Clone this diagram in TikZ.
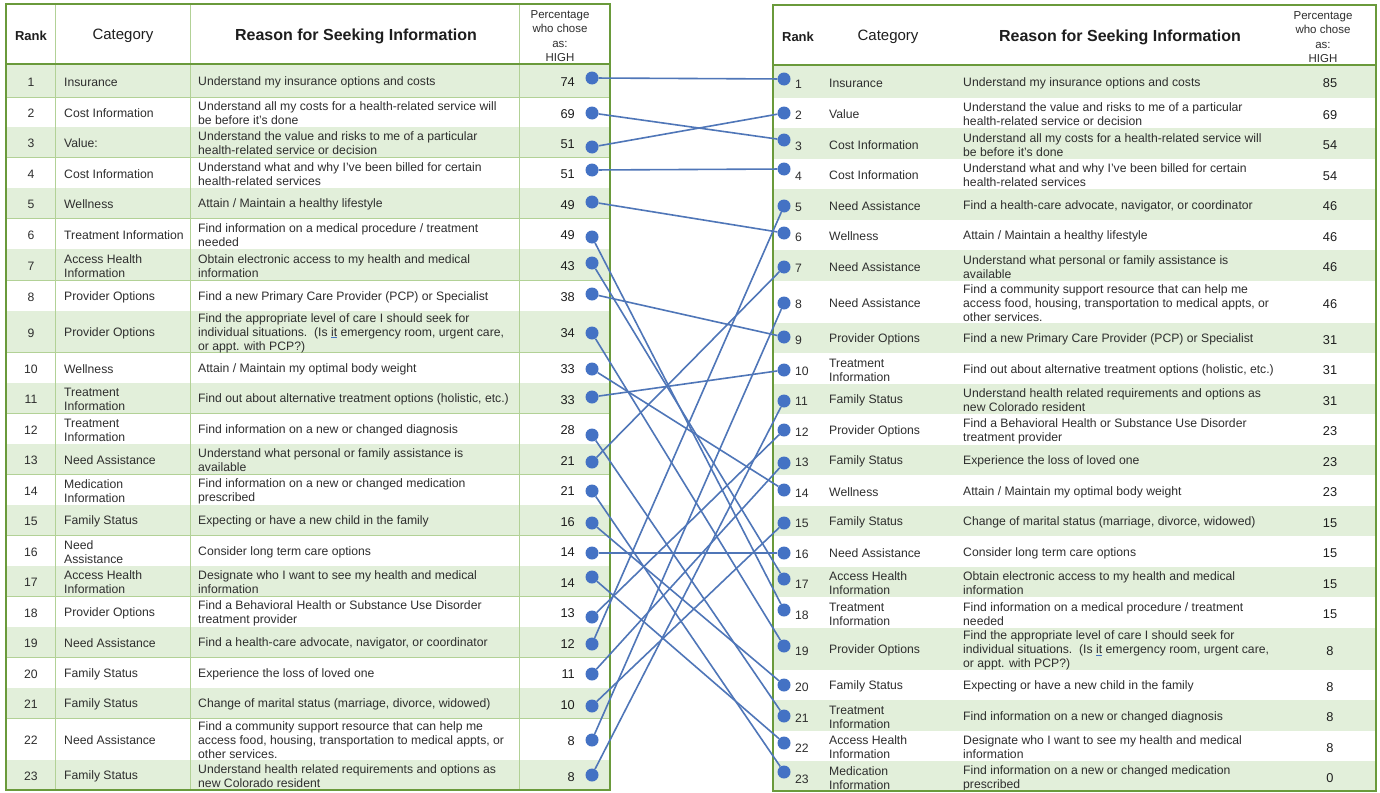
\documentclass[tikz,border=0pt]{standalone}
\usepackage{fontspec}
\setmainfont{Liberation Sans}
\definecolor{borderc}{HTML}{6A9A3B}
\definecolor{innerc}{HTML}{B2D196}
\definecolor{shadec}{HTML}{E2EFDA}
\definecolor{txtc}{HTML}{2E2E2E}
\definecolor{hdrc}{HTML}{1E1E1E}
\definecolor{dotc}{HTML}{4472C4}
\definecolor{linkc}{HTML}{4F76B8}
\tikzset{
  txt/.style={font=\fontsize{12.2}{14}\selectfont, text=txtc, inner sep=0pt, align=left, yshift=-1.5pt},
  num/.style={font=\fontsize{12.8}{14}\selectfont, text=hdrc, inner sep=0pt, yshift=-2pt},
  dot/.style={circle, fill=dotc, minimum size=13pt, inner sep=0pt},
  link/.style={draw=linkc, line width=1.6pt},
  rowshade/.style={fill=shadec},
  innerline/.style={draw=innerc, line width=0.8pt},
  outerline/.style={draw=borderc, line width=2pt},
  hdrline/.style={draw=borderc, line width=1.5pt},
  hdrsmall/.style={font=\bfseries\fontsize{13}{15}\selectfont, text=hdrc, inner sep=0pt},
  hdrcat/.style={font=\fontsize{15}{17}\selectfont, text=hdrc, inner sep=0pt},
  hdrbig/.style={font=\bfseries\fontsize{16}{18}\selectfont, text=hdrc, inner sep=0pt},
  hdrpct/.style={font=\fontsize{11.5}{14.5}\selectfont, text=txtc, inner sep=0pt, align=center}
}
\newcommand\ulit{\textcolor{dotc}{\underline{\textcolor{txtc}{it}}}}
% left row: rank, top, bottom, category, reason, pct, dot y
\newcommand\Lrow[7]{%
  \ifodd#1\relax \fill[rowshade] (7,#2) rectangle (610,#3);\fi
  \draw[innerline] (7,#3) -- (610,#3);
  \node[txt] (Lrank#1) at (31,{(#2+#3)/2}) {#1};
  \node[txt, anchor=west] (Lcat#1) at (64,{(#2+#3)/2}) {#4};
  \node[txt, anchor=west] (Lreas#1) at (198,{(#2+#3)/2}) {#5};
  \node[num, anchor=east] (Lpct#1) at (575,{(#2+#3)/2}) {#6};
  \node[dot] (L#1) at (592,#7) {};
}
\newcommand\Rrow[7]{%
  \ifodd#1\relax \fill[rowshade] (774,#2) rectangle (1375,#3);\fi
  \node[txt, anchor=west] (Rrank#1) at (795,{(#2+#3)/2+1}) {#1};
  \node[txt, anchor=west] (Rcat#1) at (829,{(#2+#3)/2}) {#4};
  \node[txt, anchor=west] (Rreas#1) at (963,{(#2+#3)/2}) {#5};
  \node[num] (Rpct#1) at (1330,{(#2+#3)/2}) {#6};
  \node[dot] (R#1) at (784,#7) {};
}
\begin{document}
\begin{tikzpicture}[x=1pt,y=-1pt]
\useasboundingbox (0,0) rectangle (1380,792);
\fill[white] (0,0) rectangle (1380,792);
% ---------------- left table
\Lrow{1}{64}{97}{Insurance}{Understand my insurance options and costs}{74}{78}
\Lrow{2}{97}{127}{Cost Information}{Understand all my costs for a health-related service will\\be before it's done}{69}{113}
\Lrow{3}{127}{157}{Value:}{Understand the value and risks to me of a particular\\health-related service or decision}{51}{147}
\Lrow{4}{157}{188}{Cost Information}{Understand what and why I've been billed for certain\\health-related services}{51}{170}
\Lrow{5}{188}{218}{Wellness}{Attain / Maintain a healthy lifestyle}{49}{202}
\Lrow{6}{218}{249}{Treatment Information}{Find information on a medical procedure / treatment\\needed}{49}{237}
\Lrow{7}{249}{280}{Access Health\\Information}{Obtain electronic access to my health and medical\\information}{43}{263}
\Lrow{8}{280}{311}{Provider Options}{Find a new Primary Care Provider (PCP) or Specialist}{38}{294}
\Lrow{9}{311}{352}{Provider Options}{Find the appropriate level of care I should seek for\\individual situations.\ \ (Is \ulit{} emergency room, urgent care,\\or appt. with PCP?)}{34}{333}
\Lrow{10}{352}{383}{Wellness}{Attain / Maintain my optimal body weight}{33}{369}
\Lrow{11}{383}{413}{Treatment\\Information}{Find out about alternative treatment options (holistic, etc.)}{33}{397}
\Lrow{12}{413}{444}{Treatment\\Information}{Find information on a new or changed diagnosis}{28}{435}
\Lrow{13}{444}{474}{Need Assistance}{Understand what personal or family assistance is\\available}{21}{462}
\Lrow{14}{474}{505}{Medication\\Information}{Find information on a new or changed medication\\prescribed}{21}{491}
\Lrow{15}{505}{535}{Family Status}{Expecting or have a new child in the family}{16}{523}
\Lrow{16}{535}{566}{Need\\Assistance}{Consider long term care options}{14}{553}
\Lrow{17}{566}{596}{Access Health\\Information}{Designate who I want to see my health and medical\\information}{14}{577}
\Lrow{18}{596}{627}{Provider Options}{Find a Behavioral Health or Substance Use Disorder\\treatment provider}{13}{617}
\Lrow{19}{627}{657}{Need Assistance}{Find a health-care advocate, navigator, or coordinator}{12}{644}
\Lrow{20}{657}{688}{Family Status}{Experience the loss of loved one}{11}{674}
\Lrow{21}{688}{718}{Family Status}{Change of marital status (marriage, divorce, widowed)}{10}{706}
\Lrow{22}{718}{760}{Need Assistance}{Find a community support resource that can help me\\access food, housing, transportation to medical appts, or\\other services.}{8}{740}
\Lrow{23}{760}{790}{Family Status}{Understand health related requirements and options as\\new Colorado resident}{8}{775}
\draw[innerline] (55,4) -- (55,790);
\draw[innerline] (190,4) -- (190,790);
\draw[innerline] (519,4) -- (519,790);
\draw[hdrline] (6,64) -- (610,64);
\node[hdrsmall] (LhRank) at (31,36) {Rank};
\node[hdrcat] (LhCat) at (123,36) {Category};
\node[hdrbig] (LhReason) at (356,36) {Reason for Seeking Information};
\node[hdrpct] (LhPct) at (560,36) {Percentage\\who chose\\as:\\HIGH};
\draw[outerline] (6,4) rectangle (610,790);
% ---------------- right table
\Rrow{1}{65}{98}{Insurance}{Understand my insurance options and costs}{85}{79}
\Rrow{2}{98}{128}{Value}{Understand the value and risks to me of a particular\\health-related service or decision}{69}{113}
\Rrow{3}{128}{159}{Cost Information}{Understand all my costs for a health-related service will\\be before it's done}{54}{140}
\Rrow{4}{159}{189}{Cost Information}{Understand what and why I've been billed for certain\\health-related services}{54}{169}
\Rrow{5}{189}{220}{Need Assistance}{Find a health-care advocate, navigator, or coordinator}{46}{206}
\Rrow{6}{220}{250}{Wellness}{Attain / Maintain a healthy lifestyle}{46}{233}
\Rrow{7}{250}{281}{Need Assistance}{Understand what personal or family assistance is\\available}{46}{267}
\Rrow{8}{281}{323}{Need Assistance}{Find a community support resource that can help me\\access food, housing, transportation to medical appts, or\\other services.}{46}{303}
\Rrow{9}{323}{353}{Provider Options}{Find a new Primary Care Provider (PCP) or Specialist}{31}{337}
\Rrow{10}{353}{384}{Treatment\\Information}{Find out about alternative treatment options (holistic, etc.)}{31}{370}
\Rrow{11}{384}{414}{Family Status}{Understand health related requirements and options as\\new Colorado resident}{31}{401}
\Rrow{12}{414}{445}{Provider Options}{Find a Behavioral Health or Substance Use Disorder\\treatment provider}{23}{430}
\Rrow{13}{445}{475}{Family Status}{Experience the loss of loved one}{23}{463}
\Rrow{14}{475}{506}{Wellness}{Attain / Maintain my optimal body weight}{23}{490}
\Rrow{15}{506}{536}{Family Status}{Change of marital status (marriage, divorce, widowed)}{15}{523}
\Rrow{16}{536}{567}{Need Assistance}{Consider long term care options}{15}{553}
\Rrow{17}{567}{597}{Access Health\\Information}{Obtain electronic access to my health and medical\\information}{15}{579}
\Rrow{18}{597}{628}{Treatment\\Information}{Find information on a medical procedure / treatment\\needed}{15}{610}
\Rrow{19}{628}{670}{Provider Options}{Find the appropriate level of care I should seek for\\individual situations.\ \ (Is \ulit{} emergency room, urgent care,\\or appt. with PCP?)}{8}{646}
\Rrow{20}{670}{700}{Family Status}{Expecting or have a new child in the family}{8}{685}
\Rrow{21}{700}{731}{Treatment\\Information}{Find information on a new or changed diagnosis}{8}{716}
\Rrow{22}{731}{761}{Access Health\\Information}{Designate who I want to see my health and medical\\information}{8}{743}
\Rrow{23}{761}{792}{Medication\\Information}{Find information on a new or changed medication\\prescribed}{0}{772}
\draw[hdrline] (773,65) -- (1376,65);
\node[hdrsmall] (RhRank) at (798,37) {Rank};
\node[hdrcat] (RhCat) at (888,37) {Category};
\node[hdrbig] (RhReason) at (1120,37) {Reason for Seeking Information};
\node[hdrpct] (RhPct) at (1323,37) {Percentage\\who chose\\as:\\HIGH};
\draw[outerline] (773,5) rectangle (1376,791);
% ---------------- connectors
\foreach \a/\b in {1/1,2/3,3/2,4/4,5/6,6/18,7/17,8/9,9/19,10/14,11/10,12/21,13/7,14/23,15/20,16/16,17/22,18/12,19/5,20/13,21/15,22/8,23/11}
  \draw[link] (L\a) -- (R\b);
\end{tikzpicture}
\end{document}
